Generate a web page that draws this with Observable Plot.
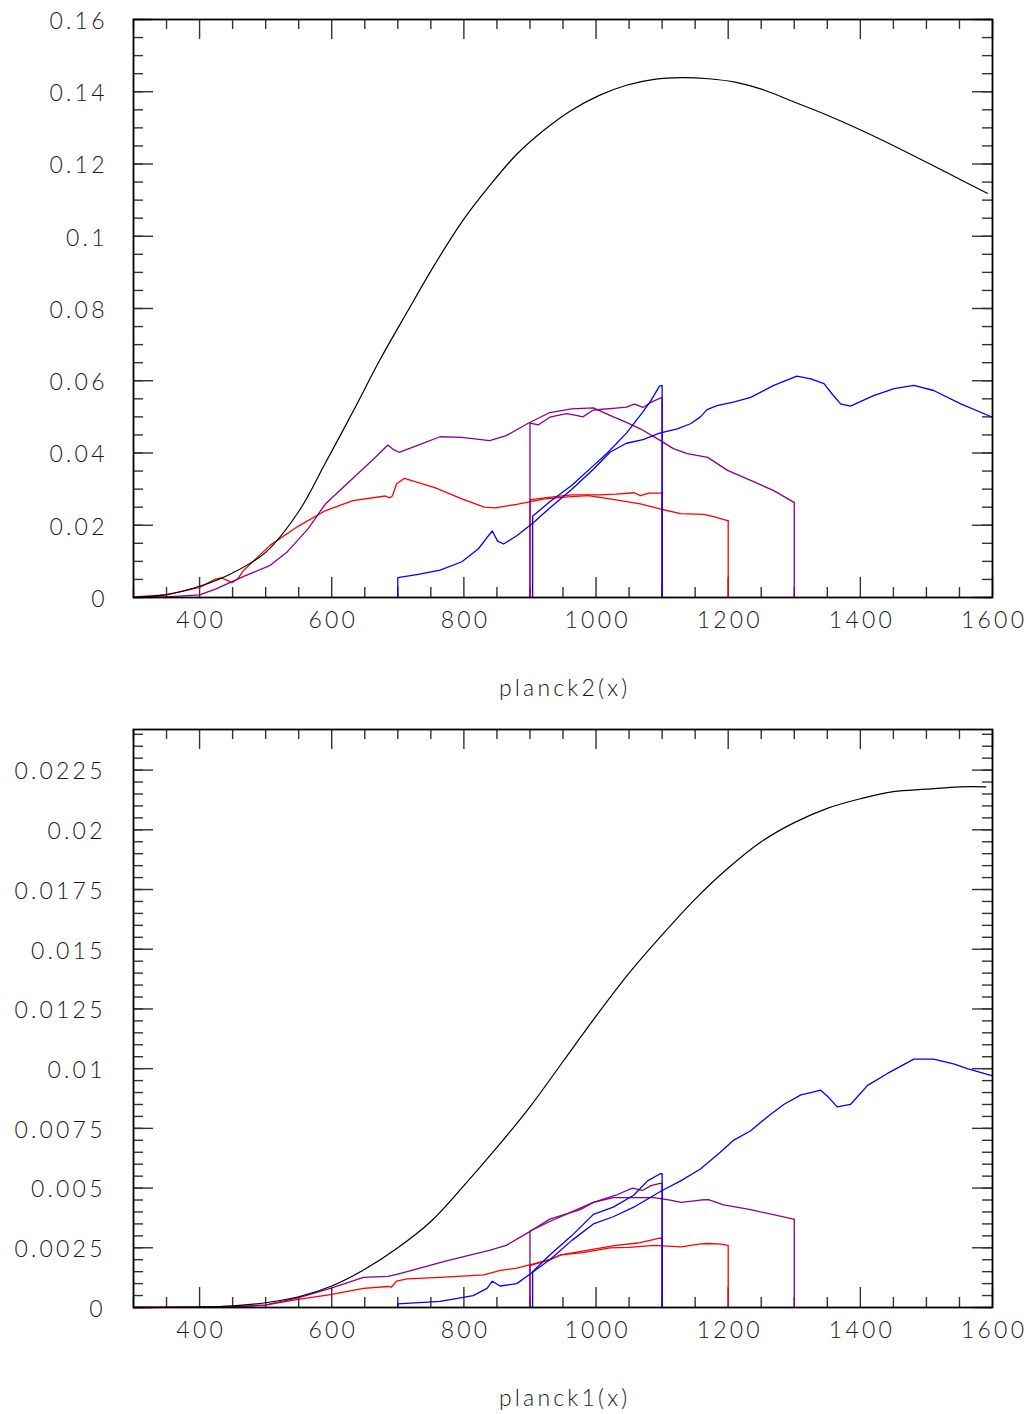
<!DOCTYPE html>
<html>
<head>
<meta charset="utf-8">
<script src="https://cdn.jsdelivr.net/npm/d3@7"></script>
<script src="https://cdn.jsdelivr.net/npm/@observablehq/plot@0.6"></script>
<style>
  html, body { margin: 0; padding: 0; background: #fff; }
  #chart svg { display: block; }
</style>
</head>
<body>
<div id="chart"></div>
<script>
// ---------- tick values & labels ----------
const xTicks = [400, 600, 800, 1000, 1200, 1400, 1600];
const xTickLabels = ["400", "600", "800", "1000", "1200", "1400", "1600"];
const xMinorStep = 50;

const yTicksTop = [0, 0.02, 0.04, 0.06, 0.08, 0.1, 0.12, 0.14, 0.16];
const yTickLabelsTop = ["0", "0.02", "0.04", "0.06", "0.08", "0.1", "0.12", "0.14", "0.16"];
const yMinorStepTop = 0.005;

const yTicksBottom = [0, 0.0025, 0.005, 0.0075, 0.01, 0.0125, 0.015, 0.0175, 0.02, 0.0225];
const yTickLabelsBottom = ["0", "0.0025", "0.005", "0.0075", "0.01", "0.0125", "0.015", "0.0175", "0.02", "0.0225"];
const yMinorStepBottom = 0.0005;

// ---------- planck2(x) panel ----------
const top_black = [[300,0],[350,0.0008],[400,0.0031],[450,0.0068],[500,0.0125],[550,0.0238],[590,0.0371],[632,0.0514],[673,0.0658],[715,0.0793],[756,0.0922],[797,0.104],[839,0.114],[880,0.1227],[922,0.1295],[963,0.1349],[1005,0.139],[1046,0.1418],[1088,0.1434],[1129,0.1439],[1170,0.1436],[1212,0.1426],[1254,0.1405],[1295,0.1375],[1350,0.1335],[1403,0.1292],[1461,0.1241],[1530,0.1177],[1592,0.1119]];

const top_red1 = [[300,0.0002],[350,0.0007],[400,0.0028],[424,0.0051],[433,0.0054],[441,0.0048],[449,0.0041],[458,0.0052],[466,0.0074],[507,0.0145],[549,0.0197],[590,0.024],[632,0.0268],[681,0.0281],[688,0.0276],[692,0.0282],[698,0.0314],[710,0.033],[756,0.0304],[797,0.0273],[831,0.025],[847,0.0248],[880,0.0258],[922,0.0273],[963,0.0279],[988,0.0282],[1021,0.0273],[1067,0.0259],[1097,0.0245],[1128,0.0232],[1163,0.023],[1178,0.0224],[1199,0.0213],[1200,0.0213],[1200,0]];
const top_red2 = [[900,0],[900,0.027],[922,0.0276],[963,0.0284],[1005,0.0284],[1030,0.0286],[1058,0.029],[1067,0.0282],[1080,0.0289],[1100,0.0289],[1100,0]];

const top_purple1 = [[300,0.0002],[350,0.0002],[400,0.0007],[424,0.0023],[466,0.0058],[507,0.0089],[532,0.0125],[565,0.0192],[590,0.0258],[632,0.033],[665,0.0386],[685,0.0422],[693,0.041],[702,0.0402],[731,0.0422],[764,0.0445],[797,0.0443],[839,0.0434],[864,0.0448],[898,0.0483],[930,0.0512],[963,0.0522],[996,0.0525],[1021,0.0504],[1046,0.0485],[1067,0.0467],[1097,0.0435],[1117,0.0412],[1138,0.0398],[1169,0.0388],[1199,0.0352],[1234,0.0324],[1269,0.0296],[1299,0.0264],[1300,0.0264],[1300,0]];
const top_purple2 = [[900,0],[900,0.0483],[913,0.0478],[930,0.0499],[955,0.0509],[968,0.0505],[980,0.05],[996,0.0519],[1030,0.0524],[1046,0.0527],[1058,0.0535],[1071,0.0526],[1083,0.054],[1097,0.0552],[1100,0.0553],[1100,0]];

const top_blue1 = [[700,0],[700,0.0055],[731,0.0064],[764,0.0076],[797,0.0099],[822,0.0135],[835,0.0166],[843,0.0184],[851,0.0156],[860,0.0148],[880,0.0171],[905,0.0207],[930,0.0248],[963,0.0299],[996,0.0355],[1021,0.0402],[1046,0.0427],[1071,0.0437],[1096,0.0455],[1123,0.0467],[1143,0.0481],[1158,0.05],[1168,0.052],[1183,0.0531],[1208,0.0541],[1234,0.0554],[1269,0.0587],[1304,0.0613],[1325,0.0605],[1345,0.0592],[1357,0.0564],[1370,0.0536],[1385,0.053],[1420,0.0559],[1451,0.0578],[1481,0.0587],[1511,0.0573],[1552,0.0536],[1600,0.0499]];
const top_blue2 = [[904,0],[904,0.0225],[930,0.0265],[963,0.031],[996,0.0365],[1017,0.04],[1046,0.0455],[1071,0.0514],[1083,0.0545],[1096,0.0585],[1100,0.0587],[1100,0]];

// ---------- planck1(x) panel ----------
const bot_black = [[300,0],[400,0.00002],[450,0.00007],[500,0.0002],[550,0.00045],[600,0.0009],[650,0.0016],[700,0.0025],[750,0.0036],[800,0.0051],[850,0.0067],[900,0.0084],[950,0.0103],[1000,0.0122],[1050,0.014],[1100,0.0156],[1150,0.0171],[1200,0.0184],[1250,0.0195],[1300,0.0203],[1350,0.0209],[1400,0.0213],[1450,0.0216],[1500,0.0217],[1550,0.0218],[1590,0.0218]];

const bot_red1 = [[300,0],[450,0.00003],[499,0.0001],[549,0.00034],[598,0.00054],[648,0.0008],[685,0.00088],[690,0.00085],[698,0.0011],[714,0.0012],[764,0.00126],[830,0.00137],[855,0.00155],[880,0.00165],[901,0.0018],[930,0.002],[946,0.0022],[980,0.0023],[1021,0.0025],[1050,0.00252],[1088,0.0026],[1129,0.00254],[1158,0.00266],[1170,0.00268],[1190,0.00265],[1199,0.0026],[1200,0.0026],[1200,0]];
const bot_red2 = [[900,0],[900,0.00175],[930,0.002],[947,0.0022],[988,0.0024],[1030,0.0026],[1063,0.0027],[1080,0.0028],[1096,0.0029],[1100,0.0029],[1100,0]];

const bot_purple1 = [[300,0],[450,0.00003],[499,0.0001],[549,0.0004],[598,0.0008],[648,0.00126],[685,0.0013],[700,0.0014],[714,0.0015],[775,0.00196],[840,0.0024],[864,0.0026],[901,0.0032],[930,0.0037],[976,0.0041],[996,0.0044],[1026,0.0046],[1063,0.0046],[1088,0.0046],[1112,0.0045],[1129,0.0044],[1158,0.0045],[1170,0.00452],[1193,0.0043],[1234,0.0041],[1299,0.0037],[1300,0.0037],[1300,0]];
const bot_purple2 = [[900,0],[900,0.0032],[930,0.0036],[963,0.004],[996,0.0044],[1030,0.0047],[1055,0.005],[1070,0.0049],[1083,0.0051],[1097,0.0052],[1100,0.0052],[1100,0]];

const bot_blue1 = [[700,0],[700,0.00015],[764,0.00026],[814,0.0005],[835,0.0008],[843,0.0011],[855,0.0009],[880,0.001],[905,0.0015],[930,0.002],[963,0.0028],[996,0.0035],[1026,0.0038],[1057,0.0042],[1100,0.0049],[1128,0.0053],[1158,0.0058],[1188,0.0065],[1208,0.007],[1234,0.0074],[1260,0.008],[1284,0.0085],[1310,0.0089],[1325,0.009],[1340,0.0091],[1352,0.0088],[1365,0.0084],[1385,0.0085],[1411,0.0093],[1441,0.0098],[1481,0.0104],[1511,0.0104],[1541,0.0102],[1562,0.01],[1600,0.0097]];
const bot_blue2 = [[904,0],[904,0.0015],[930,0.0022],[963,0.003],[996,0.0039],[1026,0.0042],[1057,0.0047],[1078,0.0053],[1097,0.0056],[1100,0.0056],[1100,0]];

// ---------- colours ----------
const RED = "#ff0000", BLUE = "#0000ff", PURPLE = "#8b008b", BLACK = "#000000";
const LS = 3.2; // letter spacing (px)

// ---------- panel builder ----------
function panel({black, hists, yMax, yTicks, yLabels, yMinorStep, title, height, marginBottom, yLabelDx}) {
  const W = 1031, mL = 133, mR = 39, mT = 19;
  const fw = W - mL - mR;
  const fh = height - mT - marginBottom;
  const xMinor = d3.range(300, 1600 + 1e-9, xMinorStep).filter(v => !xTicks.includes(v));
  const yMinor = d3.range(0, yMax + 1e-12, yMinorStep);
  const font = {fontFamily: "Lato, 'DejaVu Sans', sans-serif", fontSize: 23, fill: "#1a1a1a", fontWeight: 300};
  const tickStyle = {stroke: "#333", strokeWidth: 1.4};
  return Plot.plot({
    width: W, height,
    marginLeft: mL, marginRight: mR, marginTop: mT, marginBottom,
    x: {domain: [300, 1600], axis: null},
    y: {domain: [0, yMax], axis: null},
    style: {background: "#fff", letterSpacing: LS + "px"},
    marks: [
      // minor & major ticks, all four sides, pointing inward
      Plot.tickX(xMinor, {x: d => d, insetTop: fh - 10, ...tickStyle}),
      Plot.tickX(xMinor, {x: d => d, insetBottom: fh - 10, ...tickStyle}),
      Plot.tickX(xTicks, {x: d => d, insetTop: fh - 20, ...tickStyle}),
      Plot.tickX(xTicks, {x: d => d, insetBottom: fh - 20, ...tickStyle}),
      Plot.tickY(yMinor, {y: d => d, insetRight: fw - 10, ...tickStyle}),
      Plot.tickY(yMinor, {y: d => d, insetLeft: fw - 10, ...tickStyle}),
      Plot.tickY(yTicks, {y: d => d, insetRight: fw - 20, ...tickStyle}),
      Plot.tickY(yTicks, {y: d => d, insetLeft: fw - 20, ...tickStyle}),
      // data
      ...hists.map(h => Plot.line(h.data, {x: d => d[0], y: d => d[1], stroke: h.color, strokeWidth: 1.3, curve: "linear"})),
      Plot.line(black, {x: d => d[0], y: d => d[1], stroke: BLACK, strokeWidth: 1.2, curve: "catmull-rom"}),
      Plot.frame({stroke: "#000", strokeWidth: 1.8}),
      // tick labels
      Plot.text(xTicks, {x: d => d, frameAnchor: "bottom", dx: LS / 2, dy: 23, text: (d, i) => xTickLabels[i], textAnchor: "middle", lineAnchor: "middle", ...font}),
      Plot.text(yTicks, {y: d => d, frameAnchor: "left", dx: yLabelDx, dy: 2, text: (d, i) => yLabels[i], textAnchor: "end", lineAnchor: "middle", ...font}),
      // axis title
      Plot.text([title], {frameAnchor: "bottom", dx: LS / 2, dy: 91, text: d => d, textAnchor: "middle", lineAnchor: "middle", ...font})
    ]
  });
}

const chart = document.getElementById("chart");
chart.append(panel({
  black: top_black,
  hists: [
    {data: top_red1, color: RED}, {data: top_red2, color: RED},
    {data: top_purple1, color: PURPLE}, {data: top_purple2, color: PURPLE},
    {data: top_blue1, color: BLUE}, {data: top_blue2, color: BLUE}
  ],
  yMax: 0.16, yTicks: yTicksTop, yLabels: yTickLabelsTop, yMinorStep: yMinorStepTop,
  title: "planck2(x)", height: 710, marginBottom: 113, yLabelDx: -25.8
}));
chart.append(panel({
  black: bot_black,
  hists: [
    {data: bot_red1, color: RED}, {data: bot_red2, color: RED},
    {data: bot_purple1, color: PURPLE}, {data: bot_purple2, color: PURPLE},
    {data: bot_blue1, color: BLUE}, {data: bot_blue2, color: BLUE}
  ],
  yMax: 0.0242, yTicks: yTicksBottom, yLabels: yTickLabelsBottom, yMinorStep: yMinorStepBottom,
  title: "planck1(x)", height: 704, marginBottom: 107, yLabelDx: -27.8
}));
</script>
</body>
</html>
